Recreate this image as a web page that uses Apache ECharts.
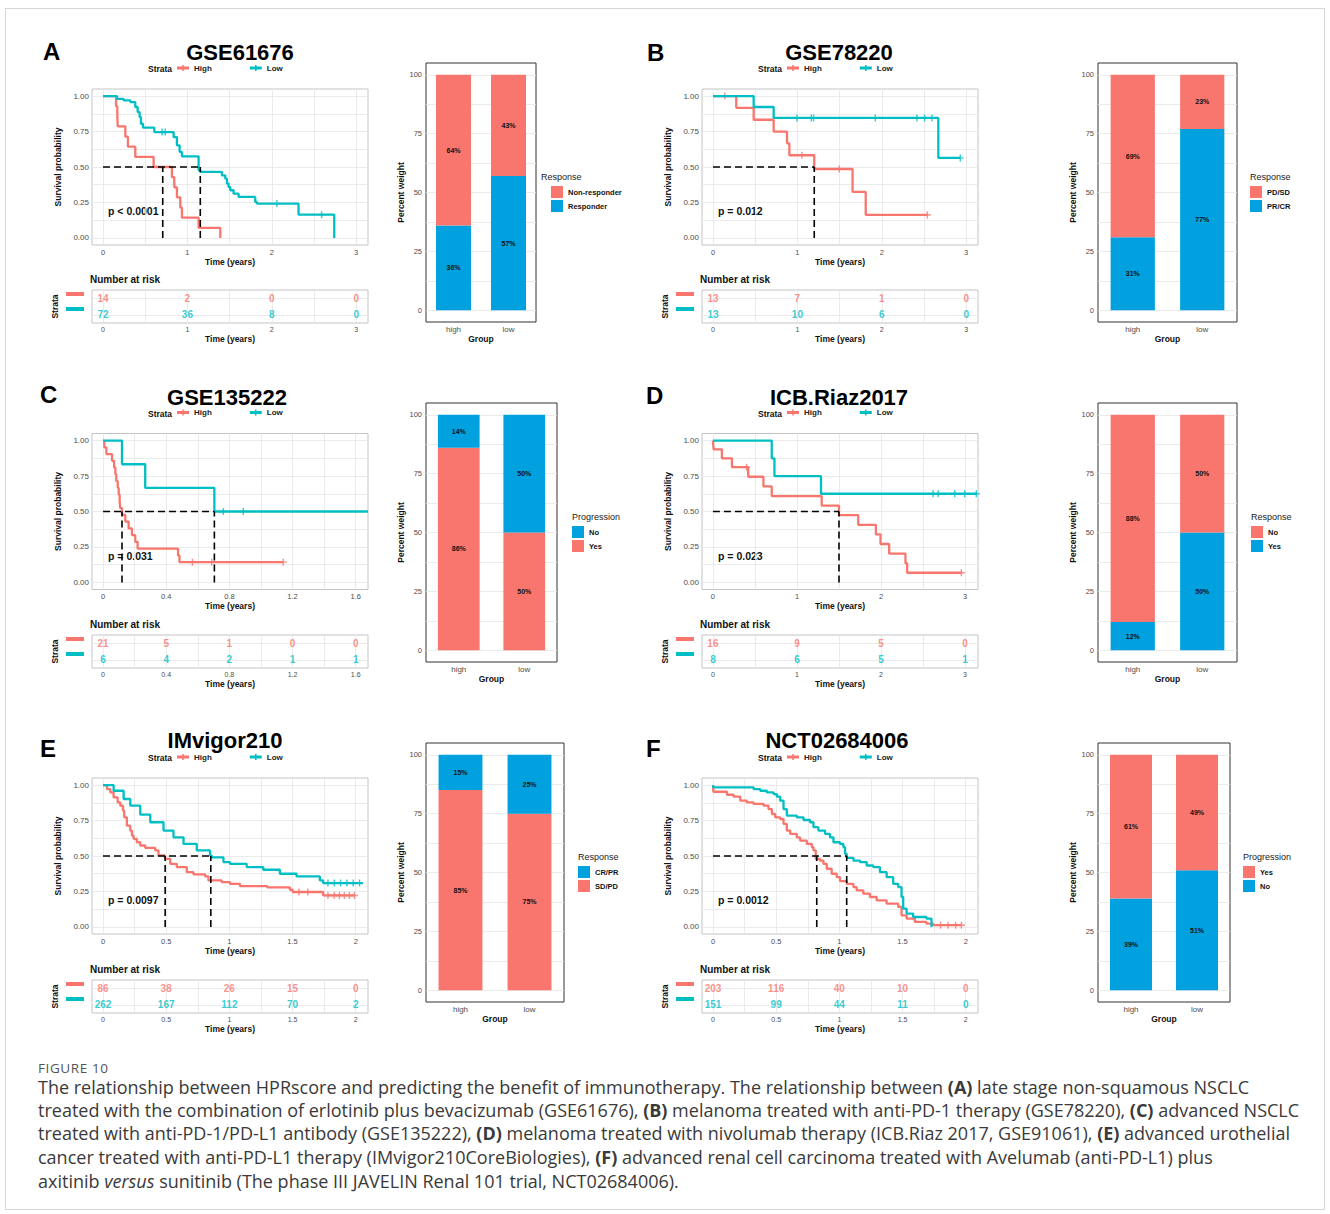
<!DOCTYPE html>
<html>
<head>
<meta charset="utf-8">
<title>Figure 10</title>
<script src="https://cdn.jsdelivr.net/npm/echarts@6.0.0/dist/echarts.min.js"></script>
<style>
  body { margin: 0; background: #fff; }
  #frame { position: absolute; left: 5px; top: 8px; width: 1320px; height: 1202px; border: 1px solid #d6d6d6; box-sizing: border-box; }
  #main { position: absolute; left: 0; top: 0; width: 1330px; height: 1214px; }
  .cap { position: absolute; left: 38px; white-space: nowrap; font-family: "Open Sans", "Noto Sans", sans-serif; font-size: 18px; line-height: 22px; color: #3a3a3a; }
  .fig { font-size: 13.5px; letter-spacing: 0.6px; color: #555; }
</style>
</head>
<body>
<div id="frame"></div>
<div id="main"></div>
<div class="cap fig" style="top:1057px">FIGURE 10</div>
<div class="cap" style="top:1076px">The relationship between HPRscore and predicting the benefit of immunotherapy. The relationship between <b>(A)</b> late stage non-squamous NSCLC</div>
<div class="cap" style="top:1099px">treated with the combination of erlotinib plus bevacizumab (GSE61676), <b>(B)</b> melanoma treated with anti-PD-1 therapy (GSE78220), <b>(C)</b> advanced NSCLC</div>
<div class="cap" style="top:1122px">treated with anti-PD-1/PD-L1 antibody (GSE135222), <b>(D)</b> melanoma treated with nivolumab therapy (ICB.Riaz 2017, GSE91061), <b>(E)</b> advanced urothelial</div>
<div class="cap" style="top:1146px">cancer treated with anti-PD-L1 therapy (IMvigor210CoreBiologies), <b>(F)</b> advanced renal cell carcinoma treated with Avelumab (anti-PD-L1) plus</div>
<div class="cap" style="top:1170px">axitinib <i>versus</i> sunitinib (The phase III JAVELIN Renal 101 trial, NCT02684006).</div>
<script type="text/javascript">
    // colours
    var RED = '#F8766D', TEAL = '#00BFC4', BLUE = '#00A1DE';
    var FONT = '"Liberation Sans", Arial, sans-serif';
    var PLUS = 'path://M-1,-5H1V-1H5V1H1V5H-1V1H-5V-1H-1Z';
    var KEY = 'path://M0,3H24V9H0Z M10.5,0H13.5V12H10.5Z';

    // tick labels
    var kmYTicks = [0, 0.25, 0.5, 0.75, 1];
    var kmYGrid = [0, 0.125, 0.25, 0.375, 0.5, 0.625, 0.75, 0.875, 1];
    var ticks3 = [0, 1, 2, 3], grid3 = [0, 0.5, 1, 1.5, 2, 2.5, 3];
    var ticks16 = [0, 0.4, 0.8, 1.2, 1.6], grid16 = [0, 0.2, 0.4, 0.6, 0.8, 1.0, 1.2, 1.4, 1.6];
    var ticks2 = [0, 0.5, 1, 1.5, 2], grid2 = [0, 0.25, 0.5, 0.75, 1, 1.25, 1.5, 1.75, 2];
    var barYTicks = [0, 25, 50, 75, 100];
    var barYGrid = [0, 12.5, 25, 37.5, 50, 62.5, 75, 87.5, 100];
    var groups = ['high', 'low'];

    // ---- Kaplan-Meier curves: [time (years), survival probability] ----
    // A GSE61676
    var gse61676High = [[0,1],[0.155,0.929],[0.17,0.857],[0.175,0.786],[0.265,0.714],[0.296,0.643],[0.383,0.571],[0.6,0.5],[0.817,0.429],[0.845,0.357],[0.876,0.286],[0.916,0.214],[0.936,0.143],[1.133,0.071],[1.39,0]];
    var gse61676Low = [[0,1],[0.166,0.981],[0.245,0.97],[0.324,0.958],[0.383,0.923],[0.411,0.887],[0.434,0.852],[0.45,0.805],[0.474,0.778],[0.608,0.746],[0.837,0.711],[0.876,0.653],[0.908,0.606],[0.936,0.575],[1.133,0.477],[1.153,0.465],[1.409,0.441],[1.449,0.418],[1.469,0.383],[1.488,0.359],[1.508,0.336],[1.548,0.312],[1.607,0.289],[1.804,0.254],[1.824,0.242],[2.317,0.164],[2.74,0]];
    var gse61676LowCens = [[0.7,0.746],[0.738,0.746],[2.06,0.242],[2.59,0.164]];
    var gse61676Medians = [0.708, 1.153];
    var gse61676RiskHigh = [14, 2, 0, 0], gse61676RiskLow = [72, 36, 8, 0];

    // B GSE78220
    var gse78220High = [[0,1],[0.276,0.917],[0.482,0.833],[0.719,0.75],[0.877,0.667],[0.905,0.583],[1.2,0.486],[1.654,0.324],[1.81,0.162],[2.54,0.162]];
    var gse78220HighCens = [[0.14,1],[1.054,0.583],[1.496,0.486],[2.54,0.162]];
    var gse78220Low = [[0,1],[0.482,0.923],[0.719,0.846],[2.67,0.564],[2.93,0.564]];
    var gse78220LowCens = [[0.995,0.846],[1.165,0.846],[1.192,0.846],[1.923,0.846],[2.416,0.846],[2.507,0.846],[2.594,0.846],[2.93,0.564]];
    var gse78220Medians = [1.2];
    var gse78220RiskHigh = [13, 7, 1, 0], gse78220RiskLow = [13, 10, 6, 0];

    // C GSE135222
    var gse135222High = [[0,1],[0.008,0.952],[0.021,0.905],[0.057,0.857],[0.07,0.81],[0.078,0.762],[0.084,0.714],[0.093,0.667],[0.099,0.619],[0.105,0.571],[0.109,0.524],[0.12,0.476],[0.141,0.429],[0.162,0.381],[0.183,0.333],[0.204,0.286],[0.219,0.238],[0.475,0.19],[0.484,0.143],[1.141,0.143]];
    var gse135222HighCens = [[0.566,0.143],[0.688,0.143],[1.141,0.143]];
    var gse135222Low = [[0,1],[0.12,0.833],[0.267,0.667],[0.705,0.5],[1.678,0.5]];
    var gse135222LowCens = [[0.762,0.5],[0.888,0.5]];
    var gse135222Medians = [0.12, 0.705];
    var gse135222RiskHigh = [21, 5, 1, 0, 0], gse135222RiskLow = [6, 4, 2, 1, 1];

    // D ICB.Riaz2017
    var riaz2017High = [[0,1],[0.008,0.9375],[0.107,0.875],[0.226,0.8125],[0.42,0.745],[0.601,0.677],[0.7,0.609],[1.294,0.542],[1.5,0.474],[1.729,0.406],[1.939,0.339],[1.994,0.271],[2.097,0.203],[2.291,0.135],[2.311,0.068],[2.956,0.068]];
    var riaz2017HighCens = [[0.4,0.8125],[2.956,0.068]];
    var riaz2017Low = [[0,1],[0.7,0.875],[0.732,0.75],[1.286,0.625],[3.14,0.625]];
    var riaz2017LowCens = [[2.62,0.625],[2.68,0.625],[2.877,0.625],[2.996,0.625],[3.134,0.625]];
    var riaz2017Medians = [1.5];
    var riaz2017RiskHigh = [16, 9, 5, 0], riaz2017RiskLow = [8, 6, 5, 1];

    // E IMvigor210
    var imvigorHigh = [[0,1],[0.032,0.972],[0.058,0.948],[0.084,0.913],[0.116,0.878],[0.137,0.855],[0.158,0.82],[0.168,0.773],[0.189,0.714],[0.216,0.679],[0.229,0.644],[0.242,0.621],[0.268,0.597],[0.295,0.574],[0.334,0.557],[0.413,0.539],[0.439,0.504],[0.49,0.48],[0.532,0.445],[0.584,0.422],[0.663,0.386],[0.716,0.37],[0.808,0.356],[0.834,0.328],[0.939,0.316],[1.005,0.304],[1.084,0.288],[1.3,0.279],[1.479,0.262],[1.5,0.246],[1.742,0.222],[1.992,0.222]];
    var imvigorHighCens = [[1.55,0.246],[1.62,0.246],[1.78,0.222],[1.83,0.222],[1.87,0.222],[1.91,0.222],[1.95,0.222],[1.99,0.222]];
    var imvigorLow = [[0,1],[0.084,0.96],[0.163,0.902],[0.216,0.855],[0.295,0.792],[0.374,0.738],[0.479,0.679],[0.558,0.632],[0.637,0.585],[0.742,0.539],[0.847,0.504],[0.86,0.49],[0.953,0.457],[1.005,0.445],[1.137,0.422],[1.268,0.403],[1.4,0.375],[1.532,0.356],[1.716,0.328],[1.742,0.309],[2.058,0.309]];
    var imvigorLowCens = [[1.78,0.309],[1.83,0.309],[1.88,0.309],[1.93,0.309],[1.98,0.309],[2.03,0.309]];
    var imvigorMedians = [0.492, 0.853];
    var imvigorRiskHigh = [86, 38, 26, 15, 0], imvigorRiskLow = [262, 167, 112, 70, 2];

    // F NCT02684006
    var nctHigh = [[0,1],[0.003,0.953],[0.111,0.932],[0.163,0.918],[0.216,0.89],[0.268,0.878],[0.321,0.867],[0.4,0.855],[0.439,0.831],[0.466,0.796],[0.492,0.773],[0.532,0.761],[0.558,0.726],[0.584,0.679],[0.611,0.656],[0.663,0.632],[0.689,0.609],[0.742,0.585],[0.782,0.562],[0.795,0.539],[0.813,0.48],[0.847,0.468],[0.874,0.445],[0.9,0.41],[0.939,0.375],[0.979,0.351],[1.005,0.323],[1.058,0.304],[1.111,0.281],[1.137,0.258],[1.189,0.234],[1.242,0.211],[1.295,0.187],[1.374,0.164],[1.466,0.141],[1.492,0.082],[1.532,0.059],[1.597,0.035],[1.689,0.023],[1.742,0.012],[1.966,0.012]];
    var nctHighCens = [[1.8,0.012],[1.86,0.012],[1.92,0.012],[1.966,0.012]];
    var nctLow = [[0,1],[0.003,0.984],[0.321,0.972],[0.374,0.96],[0.426,0.948],[0.479,0.937],[0.505,0.918],[0.532,0.89],[0.558,0.831],[0.584,0.785],[0.663,0.773],[0.716,0.754],[0.768,0.738],[0.795,0.703],[0.834,0.679],[0.887,0.656],[0.926,0.632],[0.953,0.597],[1.005,0.585],[1.032,0.562],[1.045,0.515],[1.058,0.487],[1.111,0.468],[1.163,0.457],[1.216,0.433],[1.268,0.422],[1.321,0.386],[1.374,0.351],[1.426,0.304],[1.466,0.281],[1.492,0.211],[1.505,0.129],[1.532,0.094],[1.584,0.07],[1.689,0.059],[1.729,0]];
    var nctLowCens = [];
    var nctMedians = [0.821, 1.058];
    var nctRiskHigh = [203, 116, 40, 10, 0], nctRiskLow = [151, 99, 44, 11, 0];

    // ---- stacked bars (percent, [high, low]) ----
    var gse61676Responder = [36, 57], gse61676NonResponder = [64, 43];
    var gse78220PRCR = [31, 77], gse78220PDSD = [69, 23];
    var gse135222Yes = [86, 50], gse135222No = [14, 50];
    var riaz2017Yes = [12, 50], riaz2017No = [88, 50];
    var imvigorSDPD = [85, 75], imvigorCRPR = [15, 25];
    var nctNo = [39, 51], nctYes = [61, 49];

    var panels = [
        {letter: 'A', title: 'GSE61676', xRange: [-0.13, 3.14], xMajor: ticks3, xGrid: grid3,
         high: gse61676High, highCens: [], low: gse61676Low, lowCens: gse61676LowCens,
         medians: gse61676Medians, pText: 'p < 0.0001', riskHigh: gse61676RiskHigh, riskLow: gse61676RiskLow,
         legTitle: 'Response', legOrder: ['Non-responder', 'Responder'],
         stack: [{name: 'Responder', color: BLUE, values: gse61676Responder}, {name: 'Non-responder', color: RED, values: gse61676NonResponder}]},
        {letter: 'B', title: 'GSE78220', xRange: [-0.13, 3.14], xMajor: ticks3, xGrid: grid3,
         high: gse78220High, highCens: gse78220HighCens, low: gse78220Low, lowCens: gse78220LowCens,
         medians: gse78220Medians, pText: 'p = 0.012', riskHigh: gse78220RiskHigh, riskLow: gse78220RiskLow,
         legTitle: 'Response', legOrder: ['PD/SD', 'PR/CR'],
         stack: [{name: 'PR/CR', color: BLUE, values: gse78220PRCR}, {name: 'PD/SD', color: RED, values: gse78220PDSD}]},
        {letter: 'C', title: 'GSE135222', xRange: [-0.07, 1.678], xMajor: ticks16, xGrid: grid16,
         high: gse135222High, highCens: gse135222HighCens, low: gse135222Low, lowCens: gse135222LowCens,
         medians: gse135222Medians, pText: 'p = 0.031', riskHigh: gse135222RiskHigh, riskLow: gse135222RiskLow,
         legTitle: 'Progression', legOrder: ['No', 'Yes'],
         stack: [{name: 'Yes', color: RED, values: gse135222Yes}, {name: 'No', color: BLUE, values: gse135222No}]},
        {letter: 'D', title: 'ICB.Riaz2017', xRange: [-0.13, 3.154], xMajor: ticks3, xGrid: grid3,
         high: riaz2017High, highCens: riaz2017HighCens, low: riaz2017Low, lowCens: riaz2017LowCens,
         medians: riaz2017Medians, pText: 'p = 0.023', riskHigh: riaz2017RiskHigh, riskLow: riaz2017RiskLow,
         legTitle: 'Response', legOrder: ['No', 'Yes'],
         stack: [{name: 'Yes', color: BLUE, values: riaz2017Yes}, {name: 'No', color: RED, values: riaz2017No}]},
        {letter: 'E', title: 'IMvigor210', xRange: [-0.087, 2.097], xMajor: ticks2, xGrid: grid2,
         high: imvigorHigh, highCens: imvigorHighCens, low: imvigorLow, lowCens: imvigorLowCens,
         medians: imvigorMedians, pText: 'p = 0.0097', riskHigh: imvigorRiskHigh, riskLow: imvigorRiskLow,
         legTitle: 'Response', legOrder: ['CR/PR', 'SD/PD'],
         stack: [{name: 'SD/PD', color: RED, values: imvigorSDPD}, {name: 'CR/PR', color: BLUE, values: imvigorCRPR}]},
        {letter: 'F', title: 'NCT02684006', xRange: [-0.087, 2.097], xMajor: ticks2, xGrid: grid2,
         high: nctHigh, highCens: nctHighCens, low: nctLow, lowCens: nctLowCens,
         medians: nctMedians, pText: 'p = 0.0012', riskHigh: nctRiskHigh, riskLow: nctRiskLow,
         legTitle: 'Progression', legOrder: ['Yes', 'No'],
         stack: [{name: 'No', color: BLUE, values: nctNo}, {name: 'Yes', color: RED, values: nctYes}]}
    ];

    // page layout (pixels)
    var rows = [
        {km: 89, tab: 290, bar: 63, leg: 69, barLeg: 177},
        {km: 433.5, tab: 635, bar: 403, leg: 413.5, barLeg: 517},
        {km: 778, tab: 980, bar: 743, leg: 758, barLeg: 857}
    ];
    var cols = [{km: 92, bar: 426}, {km: 702, bar: 1098}];
    var look = [
        {barW: 110, titleX: 240, titleY: 52, letterX: 43, letterY: 51.5, legTitleX: 541, legKeyX: 551},
        {barW: 139, titleX: 839, titleY: 52, letterX: 647, letterY: 52, legTitleX: 1250, legKeyX: 1250},
        {barW: 131, titleX: 227, titleY: 397, letterX: 40, letterY: 394, legTitleX: 572, legKeyX: 572},
        {barW: 139, titleX: 839, titleY: 397, letterX: 646, letterY: 395, legTitleX: 1251, legKeyX: 1251},
        {barW: 138, titleX: 225, titleY: 740, letterX: 40, letterY: 748, legTitleX: 578, legKeyX: 578},
        {barW: 132, titleX: 837, titleY: 740, letterX: 646, letterY: 748, legTitleX: 1243, legKeyX: 1243}
    ];

    var chart = echarts.init(document.getElementById('main'), null, {renderer: 'svg'});
    var grids = [], xAxes = [], yAxes = [], series = [], legends = [], texts = [];

    function addGrid(g, x, y) {
        grids.push(g);
        var i = grids.length - 1;
        x.gridIndex = i; y.gridIndex = i;
        xAxes.push(x); yAxes.push(y);
        return i;
    }
    function txt(x, y, s, size, weight, color, align) {
        texts.push({type: 'text', x: x, y: y, silent: true,
            style: {text: s, fontSize: size, fontWeight: weight || 'normal', fontFamily: FONT, fill: color || '#000',
                    align: align || 'left', textAlign: align || 'left', verticalAlign: 'middle', textVerticalAlign: 'middle'}});
    }
    var axisName = {fontSize: 8.5, fontWeight: 'bold', color: '#111', fontFamily: FONT};
    var gridLine = {show: true, lineStyle: {color: '#e6e6e6', width: 0.8}};

    panels.forEach(function (p, k) {
        var r = rows[Math.floor(k / 2)], c = cols[k % 2], lk = look[k];
        var L = c.km;

        // KM panel
        var gi = addGrid({left: L, top: r.km, width: 276, height: 156, show: true, borderColor: '#c4c4c4', borderWidth: 1},
            {type: 'value', min: p.xRange[0], max: p.xRange[1], axisLine: {show: false},
             axisTick: {show: false, customValues: p.xGrid},
             axisLabel: {customValues: p.xMajor, fontSize: 7.5, color: '#4d4d4d', margin: 3, fontFamily: FONT},
             splitLine: gridLine, name: 'Time (years)', nameLocation: 'middle', nameGap: 12, nameTextStyle: axisName},
            {type: 'value', min: -0.05, max: 1.05, axisLine: {show: false},
             axisTick: {show: false, customValues: kmYGrid},
             axisLabel: {customValues: kmYTicks, formatter: function (v) { return v.toFixed(2); }, fontSize: 8, color: '#4d4d4d', margin: 3, fontFamily: FONT},
             splitLine: gridLine, name: 'Survival probability', nameLocation: 'middle', nameGap: 30, nameTextStyle: axisName});

        [['High', p.high, p.highCens, RED], ['Low', p.low, p.lowCens, TEAL]].forEach(function (s) {
            series.push({type: 'line', name: s[0], xAxisIndex: gi, yAxisIndex: gi, data: s[1], step: 'end',
                showSymbol: false, lineStyle: {color: s[3], width: 2.3}, itemStyle: {color: s[3]}, silent: true});
            series.push({type: 'scatter', name: s[0], xAxisIndex: gi, yAxisIndex: gi, data: s[2], symbol: PLUS,
                symbolSize: 7, itemStyle: {color: s[3]}, silent: true});
        });
        var dash = {type: [7, 4], color: '#000', width: 1.6};
        var mMax = Math.max.apply(null, p.medians);
        series.push({type: 'line', xAxisIndex: gi, yAxisIndex: gi, data: [[0, 0.5], [mMax, 0.5]], showSymbol: false, lineStyle: dash, silent: true});
        p.medians.forEach(function (m) {
            series.push({type: 'line', xAxisIndex: gi, yAxisIndex: gi, data: [[m, 0], [m, 0.5]], showSymbol: false, lineStyle: dash, silent: true});
        });
        txt(L + 16, r.km + 122, p.pText, 10.5, 'bold', '#111');

        // strata legend
        txt(L + 56, r.leg, 'Strata', 8.5, 'bold', '#111');
        legends.push({left: L + 85, top: r.leg - 5, padding: 0, itemWidth: 12, itemHeight: 6, itemGap: 38, selectedMode: false,
            textStyle: {fontSize: 8, fontWeight: 'bold', color: '#222', fontFamily: FONT},
            data: [{name: 'High', icon: KEY, itemStyle: {color: RED}}, {name: 'Low', icon: KEY, itemStyle: {color: TEAL}}]});

        // titles
        txt(lk.letterX, lk.letterY, p.letter, 24, 'bold', '#000');
        txt(lk.titleX, lk.titleY, p.title, 22, 'bold', '#000', 'center');

        // number at risk table
        var ti = addGrid({left: L, top: r.tab, width: 276, height: 33, show: true, borderColor: '#c4c4c4', borderWidth: 1},
            {type: 'value', min: p.xRange[0], max: p.xRange[1], axisLine: {show: false},
             axisTick: {show: false, customValues: p.xGrid},
             axisLabel: {customValues: p.xMajor, fontSize: 7, color: '#4d4d4d', margin: 3, fontFamily: FONT},
             splitLine: gridLine, name: 'Time (years)', nameLocation: 'middle', nameGap: 11, nameTextStyle: axisName},
            {type: 'value', min: 0, max: 2, axisLine: {show: false}, axisLabel: {show: false},
             axisTick: {show: false, customValues: [0.5, 1.5]}, splitLine: gridLine,
             name: 'Strata', nameLocation: 'middle', nameGap: 33, nameTextStyle: axisName});
        [[p.riskHigh, 1.5, RED], [p.riskLow, 0.5, TEAL]].forEach(function (s) {
            series.push({type: 'scatter', xAxisIndex: ti, yAxisIndex: ti, symbolSize: 0, silent: true,
                data: p.xMajor.map(function (t, i) { return [t, s[1], s[0][i]]; }),
                label: {show: true, position: 'inside', formatter: function (q) { return q.value[2]; },
                        color: s[2], fontSize: 10, fontWeight: 'bold', fontFamily: FONT}});
        });
        txt(L - 2, r.tab - 11, 'Number at risk', 10, 'bold', '#111');
        texts.push({type: 'rect', shape: {x: L - 26, y: r.tab + 2, width: 18, height: 4}, style: {fill: RED}, silent: true});
        texts.push({type: 'rect', shape: {x: L - 26, y: r.tab + 17, width: 18, height: 4}, style: {fill: TEAL}, silent: true});

        // stacked percent bars
        var bi = addGrid({left: c.bar, top: r.bar, width: lk.barW, height: 259, show: true, borderColor: '#333', borderWidth: 1},
            {type: 'category', data: groups, boundaryGap: true, axisLine: {show: false}, axisTick: {show: false},
             axisLabel: {fontSize: 8, color: '#4d4d4d', margin: 3, fontFamily: FONT},
             splitLine: {show: false}, name: 'Group', nameLocation: 'middle', nameGap: 12, nameTextStyle: axisName},
            {type: 'value', min: -5, max: 105, axisLine: {show: false},
             axisTick: {show: false, customValues: barYGrid},
             axisLabel: {customValues: barYTicks, fontSize: 7.5, color: '#4d4d4d', margin: 4, fontFamily: FONT},
             splitLine: gridLine, name: 'Percent weight', nameLocation: 'middle', nameGap: 18, nameTextStyle: axisName});
        var bw = 0.7 * lk.barW / 2.2;
        p.stack.forEach(function (s) {
            series.push({type: 'bar', name: s.name, xAxisIndex: bi, yAxisIndex: bi, stack: 'bar' + k, barWidth: bw,
                data: s.values, itemStyle: {color: s.color}, silent: true,
                label: {show: true, position: 'inside', formatter: '{c}%',
                        fontSize: 7, fontWeight: 'bold', color: '#111', fontFamily: FONT}});
        });
        txt(lk.legTitleX, r.barLeg, p.legTitle, 9, 'normal', '#222');
        legends.push({left: lk.legKeyX, top: r.barLeg + 9, orient: 'vertical', padding: 0, itemWidth: 12, itemHeight: 12, itemGap: 2,
            icon: 'rect', selectedMode: false,
            textStyle: {fontSize: 7.5, fontWeight: 'bold', color: '#111', fontFamily: FONT},
            data: p.legOrder.map(function (n) {
                var col = p.stack.filter(function (s) { return s.name === n; })[0].color;
                return {name: n, itemStyle: {color: col}};
            })});
    });

    chart.setOption({
        animation: false,
        textStyle: {fontFamily: FONT},
        grid: grids,
        xAxis: xAxes,
        yAxis: yAxes,
        legend: legends,
        graphic: {elements: texts},
        series: series
    });
</script>
</body>
</html>
